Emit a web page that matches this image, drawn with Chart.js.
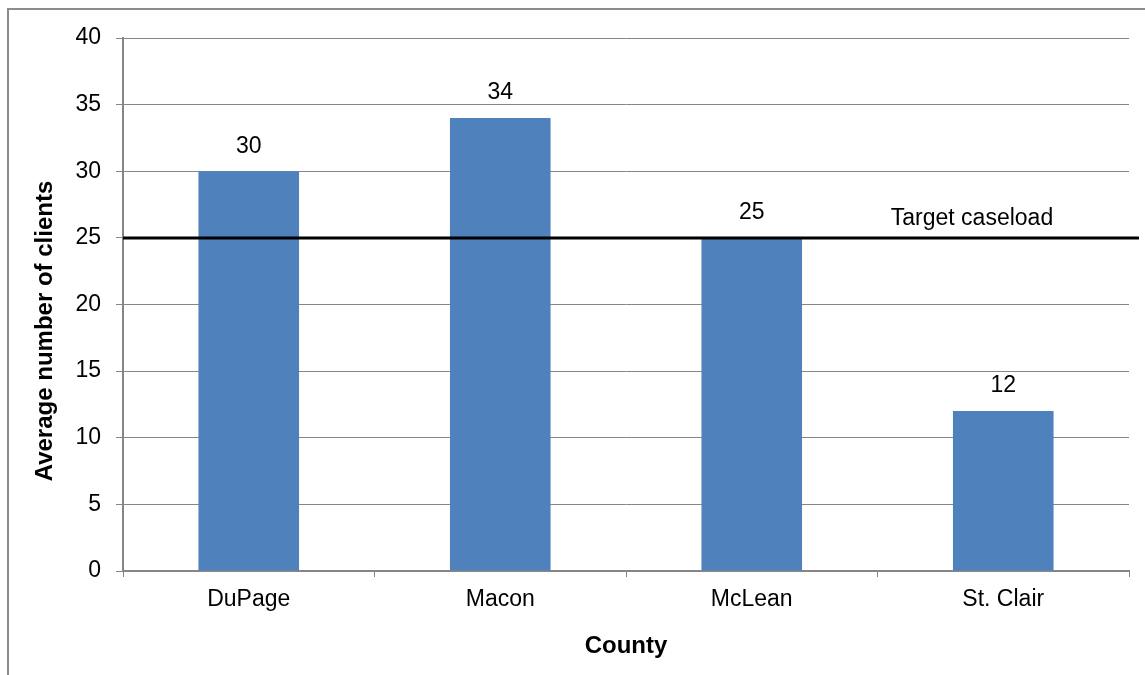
<!DOCTYPE html>
<html>
<head>
<meta charset="utf-8">
<script src="https://cdn.jsdelivr.net/npm/chart.js@4"></script>
<style>
  html, body { margin: 0; padding: 0; background: #fff; }
  #wrap { position: relative; width: 1145px; height: 675px; }
</style>
</head>
<body>
<div id="wrap"><canvas id="caseloadChart"></canvas></div>
<script>
const counties = ['DuPage', 'Macon', 'McLean', 'St. Clair'];
const avgClients = [30, 34, 25, 12];
const targetCaseload = 25;
const targetLabel = 'Target caseload';
const yTitle = 'Average number of clients';

Chart.defaults.font.family = "'Liberation Sans', Arial, sans-serif";
Chart.defaults.color = '#000';

// outer frame, y title, target line and value labels
const extras = {
    id: 'extras',
    afterDatasetsDraw(chart) {
        const ctx = chart.ctx;
        const area = chart.chartArea;
        const y = chart.scales.y;

        ctx.save();
        ctx.strokeStyle = '#8c8c8c';
        ctx.lineWidth = 2;
        ctx.strokeRect(8, 9, chart.width + 10, chart.height + 10);

        // y axis title (sits a little below the plot centre in the original)
        ctx.fillStyle = '#000';
        ctx.textAlign = 'center';
        ctx.textBaseline = 'middle';
        ctx.save();
        ctx.translate(45, 331);
        ctx.rotate(-Math.PI / 2);
        ctx.font = "bold 24px 'Liberation Sans', Arial, sans-serif";
        ctx.fillText(yTitle, 0, 0);
        ctx.restore();

        // value labels
        ctx.font = "23px 'Liberation Sans', Arial, sans-serif";
        chart.getDatasetMeta(0).data.forEach((bar, i) => {
            ctx.fillText(String(avgClients[i]), bar.x, bar.y - 25);
        });

        // target line
        const ty = y.getPixelForValue(targetCaseload);
        ctx.strokeStyle = '#000';
        ctx.lineWidth = 3;
        ctx.beginPath();
        ctx.moveTo(area.left, ty);
        ctx.lineTo(area.right + 10, ty);
        ctx.stroke();
        ctx.fillText(targetLabel, 972, ty - 19);
        ctx.restore();
    }
};

new Chart(document.getElementById('caseloadChart').getContext('2d'), {
    type: 'bar',
    data: {
        labels: counties,
        datasets: [{
            data: avgClients,
            backgroundColor: '#4f81bd',
            barPercentage: 0.4,
            categoryPercentage: 1
        }]
    },
    options: {
        responsive: true,
        maintainAspectRatio: false,
        animation: false,
        layout: { padding: { left: 28, right: 16, top: 38, bottom: 10 } },
        plugins: { legend: { display: false }, tooltip: { enabled: false } },
        scales: {
            x: {
                grid: { drawOnChartArea: false, color: '#868686', tickLength: 6, offset: true },
                border: { color: '#868686', width: 2 },
                ticks: { font: { size: 23 }, padding: 9 },
                title: { display: true, text: 'County', font: { size: 24, weight: 'bold' }, padding: { top: 14 } },
                afterFit: s => { s.height = 94; }
            },
            y: {
                min: 0,
                max: 40,
                ticks: { stepSize: 5, font: { size: 23 }, padding: 15 },
                grid: { color: '#868686', tickLength: 7 },
                border: { color: '#868686', width: 2 },
                afterFit: s => { s.width = 95; }
            }
        }
    },
    plugins: [extras]
});
</script>
</body>
</html>
